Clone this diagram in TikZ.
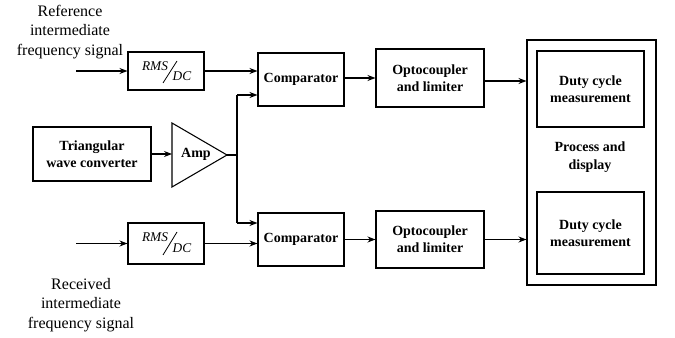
\documentclass[tikz,border=0pt]{standalone}
\usepackage{fontspec}
\setmainfont{Liberation Serif}
\usetikzlibrary{arrows.meta}
\begin{document}
\begin{tikzpicture}[x=0.75pt,y=-0.75pt,
  line width=0.8pt,
  box/.style={draw, line width=0.8pt, inner sep=0pt, align=center,
    font=\fontsize{10.5}{13}\selectfont\bfseries},
  lbl/.style={inner sep=0pt, align=center, font=\fontsize{12}{14.4}\selectfont},
  rmstxt/.style={inner sep=0pt, font=\fontsize{10}{12}\selectfont\itshape},
  arr/.style={-{Stealth[length=6pt,width=4.5pt]}}]
\useasboundingbox (0,0) rectangle (675,338);
% labels
\node[lbl] (reflbl) at (70,32) {Reference\\intermediate\\frequency signal};
\node[lbl] (reclbl) at (81,305) {Received\\intermediate\\frequency signal};
% RMS/DC boxes
\node[box, minimum width=57pt, minimum height=28.5pt] (rms1) at (166,71) {};
\node[rmstxt] (rms1a) at (155,66) {RMS};
\node[rmstxt] (rms1b) at (182,76) {DC};
\draw[line width=0.6pt] (177,61) -- (163,83);
\node[box, minimum width=57pt, minimum height=30.75pt] (rms2) at (166,243.5) {};
\node[rmstxt] (rms2a) at (155,237) {RMS};
\node[rmstxt] (rms2b) at (182,248) {DC};
\draw[line width=0.6pt] (177,232) -- (163,255);
\coordinate (in1) at (76,71);
\coordinate (in2) at (76,243.5);
\draw[arr] (in1) -- (rms1.west);
\draw[arr] (in2) -- (rms2.west);
% triangular wave converter and amp
\node[box, minimum width=88.5pt, minimum height=40.5pt] (tri) at (92,154) {Triangular\\wave converter};
\coordinate (ampin) at (172,154);
\coordinate (amptop) at (172,123);
\coordinate (ampbot) at (172,187);
\coordinate (ampout) at (227,155);
\draw (amptop) -- (ampout) -- (ampbot) -- cycle;
\node[inner sep=0pt, font=\fontsize{10.5}{13}\selectfont\bfseries] (amp) at (196,154) {Amp};
\draw[arr] (tri.east) -- (ampin);
\coordinate (j) at (237,155);
\coordinate (j1) at (237,95);
\coordinate (j2) at (237,223);
\draw (ampout) -- (j);
\draw (j1) -- (j2);
% comparators
\node[box, minimum width=64.5pt, minimum height=39.75pt] (comp1) at (301,79.5) {Comparator};
\node[box, minimum width=64.5pt, minimum height=39.75pt] (comp2) at (301,239.5) {Comparator};
\draw[arr] (rms1.east) -- (rms1.east -| comp1.west);
\draw[arr] (j1) -- (j1 -| comp1.west);
\draw[arr] (j2) -- (j2 -| comp2.west);
\draw[arr] (rms2.east) -- (rms2.east -| comp2.west);
% optocouplers
\node[box, minimum width=81pt, minimum height=43.5pt] (opto1) at (430,78) {Optocoupler\\and limiter};
\node[box, minimum width=81pt, minimum height=42.75pt] (opto2) at (430,239.5) {Optocoupler\\and limiter};
\draw[arr] (comp1.east |- opto1.west) -- (opto1.west);
\draw[arr] (comp2.east |- opto2.west) -- (opto2.west);
% process and display
\node[box, minimum width=96.75pt, minimum height=183.75pt] (outer) at (591.5,162.5) {};
\node[box, minimum width=80.25pt, minimum height=57pt] (duty1) at (590.5,89) {Duty cycle\\measurement};
\node[box, minimum width=80.25pt, minimum height=61.5pt] (duty2) at (590.5,233) {Duty cycle\\measurement};
\node[inner sep=0pt, align=center, font=\fontsize{10.5}{13}\selectfont\bfseries] (proc) at (590,157) {Process and\\display};
\draw[arr] ([yshift=-2.25pt]opto1.east) -- ([yshift=-2.25pt]opto1.east -| outer.west);
\draw[arr] (opto2.east) -- (opto2.east -| outer.west);
\end{tikzpicture}
\end{document}
